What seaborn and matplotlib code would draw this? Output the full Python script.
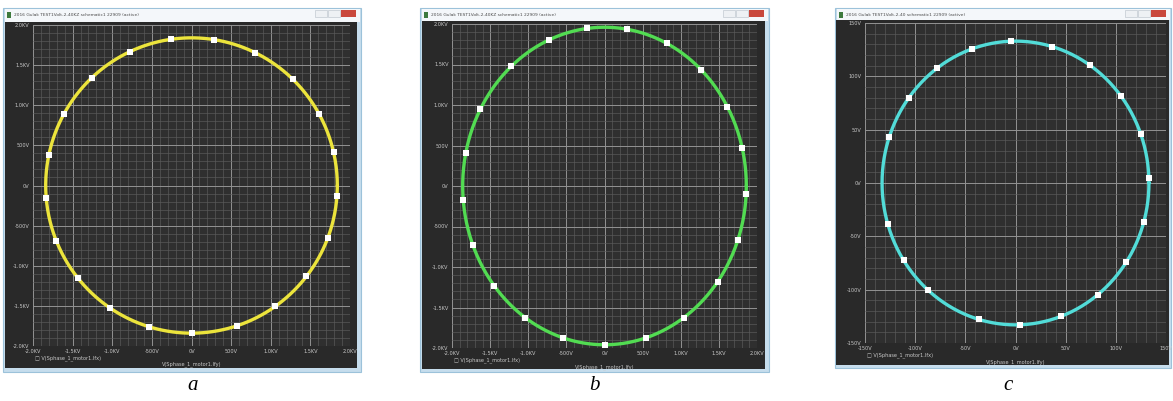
import numpy as np
import pandas as pd
import matplotlib
matplotlib.use("Agg")
import matplotlib.pyplot as plt
from matplotlib.patches import Rectangle
from matplotlib.ticker import FixedLocator, FixedFormatter, MultipleLocator
import seaborn as sns

sns.set_theme(style="dark")
plt.rcParams["font.family"] = ["DejaVu Sans"]

W, H = 1173, 401

# Peak values (V) of the two phase voltages in each run
amp_x = {"a": 1840, "b": 1860, "c": 133}
amp_y = {"a": 1840, "b": 1960, "c": 133}

# Phase angles (deg) of the simulation points shown as markers
marks_a = [115, 98, 81, 64, 46, 29, 13, -4, -21, -38, -55, -72, -90,
           -107, -124, -141, -158, -175, 168, 151, 133]
marks_b = [113, 97, 81, 64, 47, 30, 14, -3, -20, -37, -56, -73, -90,
           -107, -124, -141, -158, -175, 168, 151, 131]
marks_c = [109, 92, 74, 56, 38, 20, 2, -16, -34, -52, -70, -88, -106,
           -131, -147, -163, 161, 143, 126]

# Axis ticks and labels
ticks_kv = [-2000, -1500, -1000, -500, 0, 500, 1000, 1500, 2000]
labels_kv = ["-2.0KV", "-1.5KV", "-1.0KV", "-500V", "0V",
             "500V", "1.0KV", "1.5KV", "2.0KV"]
ticks_v = [-150, -100, -50, 0, 50, 100, 150]
labels_v = ["-150V", "-100V", "-50V", "0V", "50V", "100V", "150V"]

titles = {
    "a": "2016 Gulak TEST1Volt-2-40KZ schematic1 22909 (active)",
    "b": "2016 Gulak TEST1Volt-2-40KZ schematic1 22909 (active)",
    "c": "2016 Gulak TEST1Volt-2-40 schematic1 22909 (active)",
}
trace_name = "V(Sphase_1_motor1.Ifx)"
x_name = "V(Sphase_1_motor1.Ify)"
colors = {"a": "#ece43c", "b": "#52dc52", "c": "#52dcd8"}

# sweep of electrical angle for the drawn trace
sweep = np.linspace(0, 360, 721)

# window geometry in pixels: frame, title height, client area, plot area
layout = {
    "a": dict(win=(3, 361, 8, 372), title=14, client=(5, 357, 22, 368),
              plot=(33, 350, 25, 346), tick_y=352, leg_y=358, xl_y=364,
              ticks=ticks_kv, labels=labels_kv, lim=2000, minor=100,
              marks=marks_a, letter_x=193),
    "b": dict(win=(420, 769, 8, 372), title=13, client=(422, 765, 21, 369),
              plot=(452, 757, 24, 348), tick_y=354, leg_y=360, xl_y=367,
              ticks=ticks_kv, labels=labels_kv, lim=2000, minor=100,
              marks=marks_b, letter_x=594),
    "c": dict(win=(835, 1171, 8, 368), title=12, client=(836, 1169, 20, 365),
              plot=(865, 1166, 23, 343), tick_y=349, leg_y=355, xl_y=362,
              ticks=ticks_v, labels=labels_v, lim=150, minor=10,
              marks=marks_c, letter_x=1008),
}

fig = plt.figure(figsize=(W / 100, H / 100), dpi=100)
fig.patch.set_facecolor("white")

bg = fig.add_axes([0, 0, 1, 1])
bg.set_xlim(0, W)
bg.set_ylim(H, 0)
bg.axis("off")

lab_col = "#c9c9c9"
fs = 3.6

for key, L in layout.items():
    x0, x1, y0, y1 = L["win"]
    # window frame and title bar
    bg.add_patch(Rectangle((x0, y0), x1 - x0, y1 - y0, fc="#c6dded",
                           ec="#9cc2da", lw=0.8))
    bg.add_patch(Rectangle((x0 + 1.5, y0 + 1), x1 - x0 - 3, L["title"] - 1,
                           fc="#f4f7fa", ec="none"))
    bg.add_patch(Rectangle((x0 + 4, y0 + 4), 4, 6, fc="#3d7a3d", ec="none"))
    bg.text(x0 + 11, y0 + 7, titles[key], fontsize=3.2, color="#4a4a4a",
            va="center", ha="left")
    # caption buttons
    bg.add_patch(Rectangle((x1 - 20, y0 + 2), 15, 7, fc="#c9483c", ec="none"))
    bg.add_patch(Rectangle((x1 - 33, y0 + 2), 12, 7, fc="#eef1f4",
                           ec="#b8c0c8", lw=0.4))
    bg.add_patch(Rectangle((x1 - 46, y0 + 2), 12, 7, fc="#eef1f4",
                           ec="#b8c0c8", lw=0.4))
    # dark client area
    cx0, cx1, cy0, cy1 = L["client"]
    bg.add_patch(Rectangle((cx0, cy0), cx1 - cx0, cy1 - cy0, fc="#292929",
                           ec="none"))

    # legend and x-variable name
    px0, px1, py0, py1 = L["plot"]
    bg.text(px0 + 2, L["leg_y"], "\u25a1 " + trace_name, fontsize=fs,
            color=lab_col, va="center", ha="left")
    bg.text((px0 + px1) / 2, L["xl_y"], x_name, fontsize=fs, color=lab_col,
            va="center", ha="center")
    # sub-figure letter
    bg.text(L["letter_x"], 386, key, fontsize=15, style="italic",
            family="Liberation Serif", color="black", va="center",
            ha="center")

    # plot area
    ax = fig.add_axes([px0 / W, 1 - py1 / H, (px1 - px0) / W,
                       (py1 - py0) / H])
    ax.set_facecolor("#2f2f2f")
    lim = L["lim"]
    ax.set_xlim(-lim, lim)
    ax.set_ylim(-lim, lim)
    ax.xaxis.set_major_locator(FixedLocator(L["ticks"]))
    ax.yaxis.set_major_locator(FixedLocator(L["ticks"]))
    ax.xaxis.set_major_formatter(FixedFormatter(L["labels"]))
    ax.yaxis.set_major_formatter(FixedFormatter(L["labels"]))
    ax.xaxis.set_minor_locator(MultipleLocator(L["minor"]))
    ax.yaxis.set_minor_locator(MultipleLocator(L["minor"]))
    ax.grid(which="minor", color="#5c5c5c", lw=0.45)
    ax.grid(which="major", color="#939393", lw=0.7)
    ax.set_axisbelow(True)
    ax.tick_params(which="both", length=0, labelsize=fs, colors=lab_col,
                   pad=2.5)
    for s in ax.spines.values():
        s.set_visible(False)

    rad = np.deg2rad(sweep)
    trace = pd.DataFrame({"vx": amp_x[key] * np.cos(rad),
                          "vy": amp_y[key] * np.sin(rad)})
    sns.lineplot(data=trace, x="vx", y="vy", sort=False, color=colors[key],
                 lw=2.4, ax=ax, estimator=None)
    mrad = np.deg2rad(np.array(L["marks"], dtype=float))
    pts = pd.DataFrame({"vx": amp_x[key] * np.cos(mrad),
                        "vy": amp_y[key] * np.sin(mrad)})
    sns.scatterplot(data=pts, x="vx", y="vy", marker="s", color="white",
                    s=15, linewidth=0, ax=ax, zorder=5)
    ax.set_xlabel("")
    ax.set_ylabel("")

fig.savefig("out.png", dpi=100, facecolor="white")
